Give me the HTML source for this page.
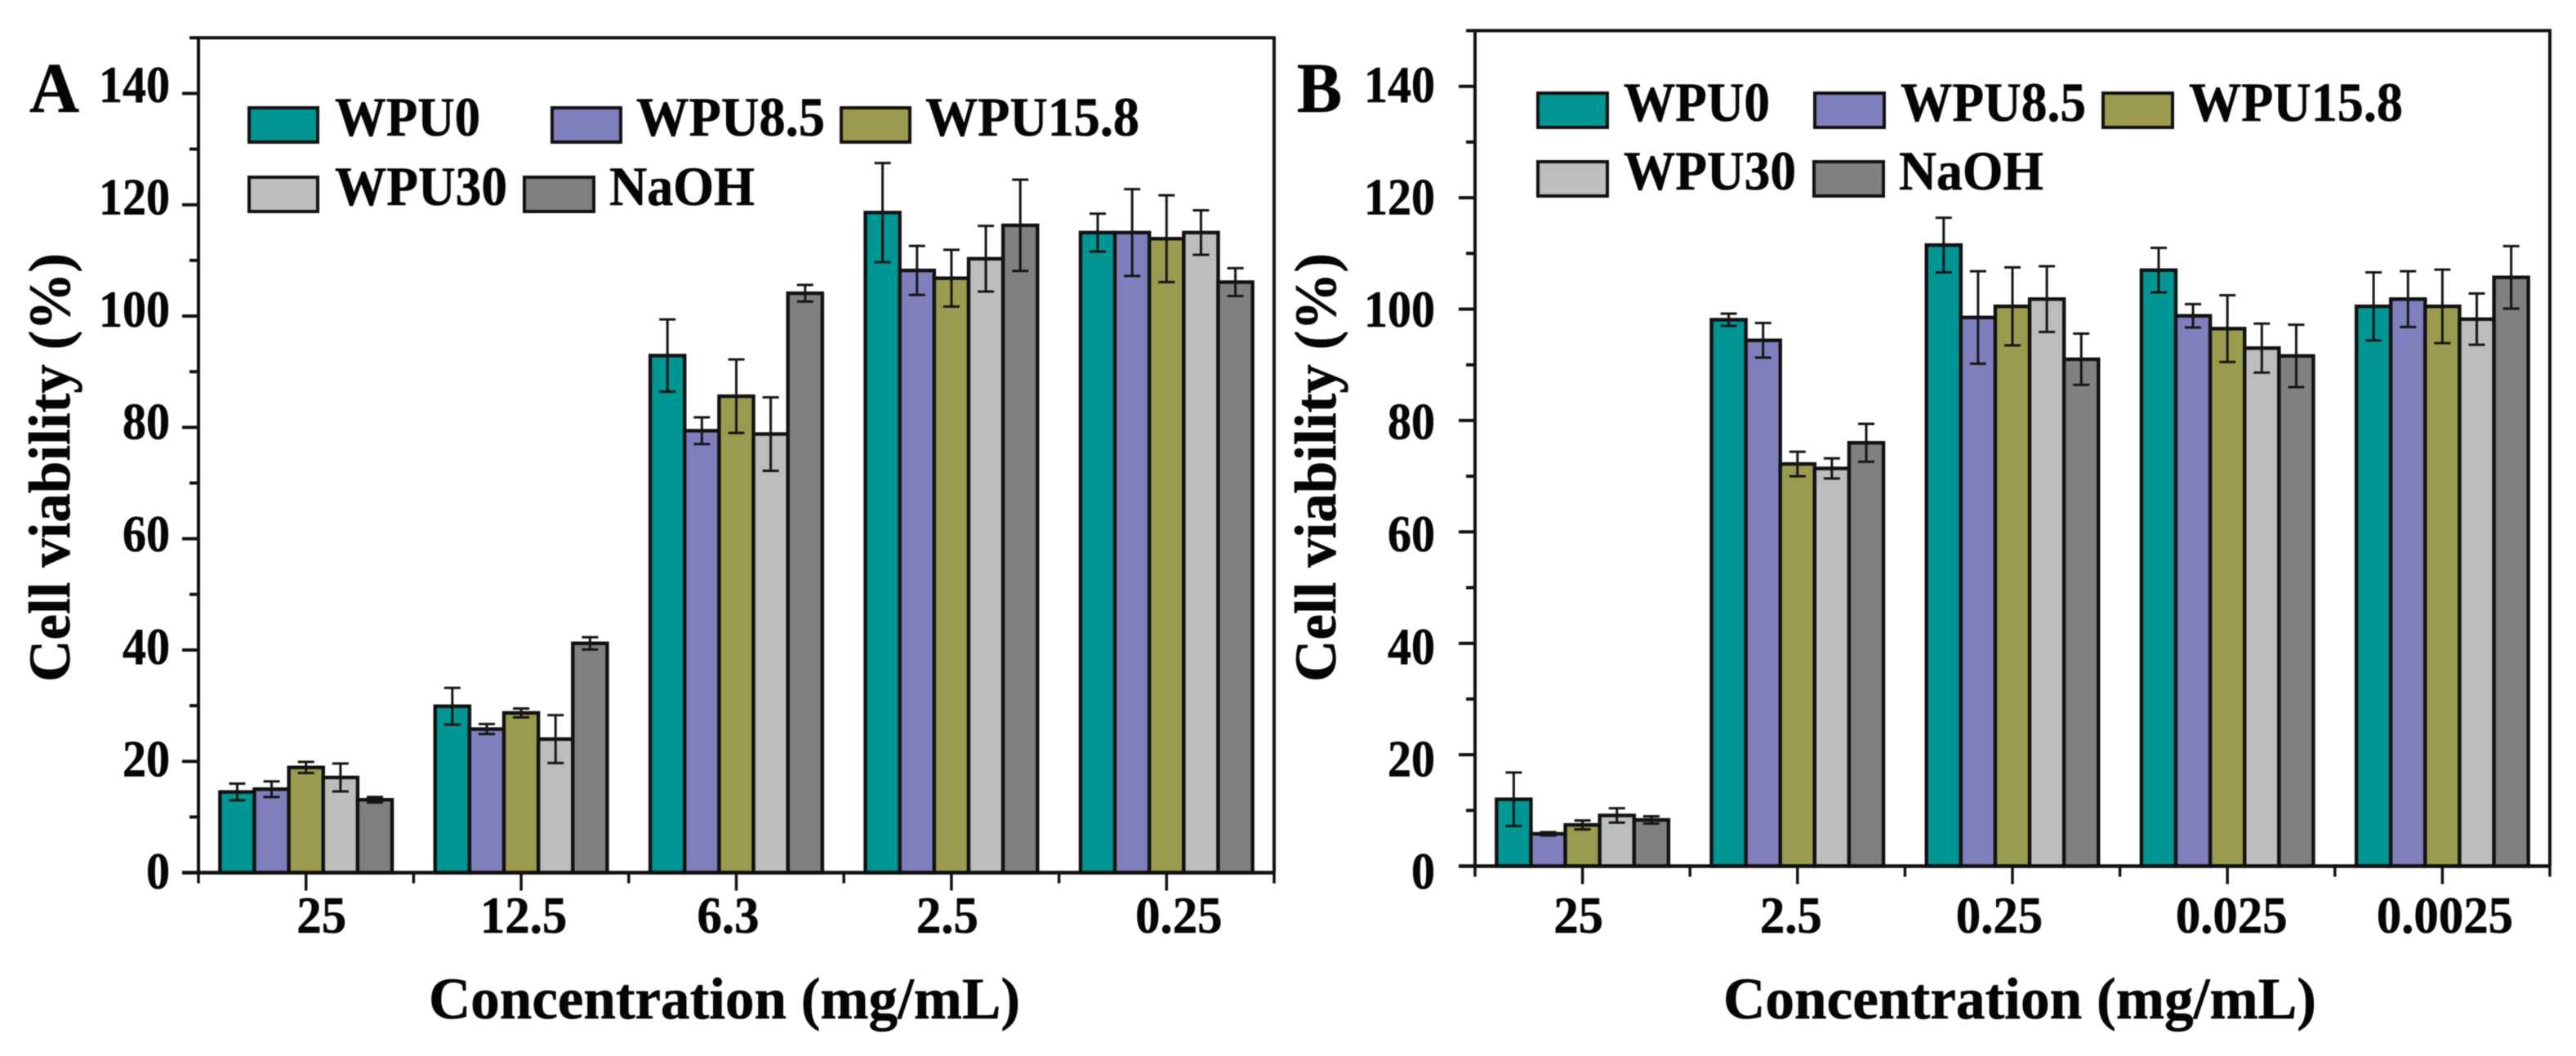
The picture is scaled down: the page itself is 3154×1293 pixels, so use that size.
<!DOCTYPE html>
<html lang="en">
<head>
<meta charset="utf-8">
<title>Cell viability charts</title>
<style>
html,body{margin:0;padding:0;background:#fff;width:3154px;height:1293px;overflow:hidden}
svg{display:block;filter:blur(.55px)}
text{font-family:"Liberation Serif",serif;font-weight:700;fill:#050505;stroke:#050505;stroke-width:.6px}
</style>
</head>
<body>
<svg id="chart" xmlns="http://www.w3.org/2000/svg" width="3154" height="1293" viewBox="0 0 3154 1293">
  <rect width="3154" height="1293" fill="#fff"/>
  <g id="panel-a">
    <text x="36" y="137" font-size="87" textLength="61" lengthAdjust="spacingAndGlyphs">A</text>
    <text transform="translate(85,835) rotate(-90)" font-size="72" textLength="525" lengthAdjust="spacingAndGlyphs">Cell viability (%)</text>
    <text x="525" y="1247" font-size="72" textLength="724" lengthAdjust="spacingAndGlyphs">Concentration (mg/mL)</text>
    <g stroke="#111" stroke-width="4">
      <rect x="305" y="132" width="84" height="42" fill="#009694"/>
      <rect x="676" y="132" width="84" height="42" fill="#807fbd"/>
      <rect x="1030" y="132" width="84" height="42" fill="#9b9b50"/>
      <rect x="305" y="217" width="84" height="42" fill="#bdbdbd"/>
      <rect x="642" y="217" width="85" height="42" fill="#808080"/>
    </g>
    <g font-size="68">
      <text x="410" y="166" textLength="178" lengthAdjust="spacingAndGlyphs">WPU0</text>
      <text x="779" y="166" textLength="231" lengthAdjust="spacingAndGlyphs">WPU8.5</text>
      <text x="1133" y="166" textLength="262" lengthAdjust="spacingAndGlyphs">WPU15.8</text>
      <text x="410" y="251" textLength="211" lengthAdjust="spacingAndGlyphs">WPU30</text>
      <text x="746" y="251" textLength="178" lengthAdjust="spacingAndGlyphs">NaOH</text>
    </g>
  </g>
  <g id="panel-b">
    <text x="1588" y="137" font-size="87" textLength="55" lengthAdjust="spacingAndGlyphs">B</text>
    <text transform="translate(1635,835) rotate(-90)" font-size="72" textLength="525" lengthAdjust="spacingAndGlyphs">Cell viability (%)</text>
    <text x="2110" y="1247" font-size="72" textLength="726" lengthAdjust="spacingAndGlyphs">Concentration (mg/mL)</text>
    <g stroke="#111" stroke-width="4">
      <rect x="1883" y="114" width="85" height="42" fill="#009694"/>
      <rect x="2222" y="114" width="85" height="42" fill="#807fbd"/>
      <rect x="2575" y="114" width="85" height="42" fill="#9b9b50"/>
      <rect x="1883" y="198" width="85" height="42" fill="#bdbdbd"/>
      <rect x="2221" y="198" width="85" height="42" fill="#808080"/>
    </g>
    <g font-size="68">
      <text x="1988" y="148" textLength="179" lengthAdjust="spacingAndGlyphs">WPU0</text>
      <text x="2327" y="148" textLength="227" lengthAdjust="spacingAndGlyphs">WPU8.5</text>
      <text x="2680" y="148" textLength="262" lengthAdjust="spacingAndGlyphs">WPU15.8</text>
      <text x="1988" y="232" textLength="211" lengthAdjust="spacingAndGlyphs">WPU30</text>
      <text x="2325" y="232" textLength="177" lengthAdjust="spacingAndGlyphs">NaOH</text>
    </g>
  </g>
</svg>
<script>
// Shared tick labels
const yTickLabels = [0, 20, 40, 60, 80, 100, 120, 140];
const yMinorTicks = [10, 30, 50, 70, 90, 110, 130, 150];

// Panel A data
const categoriesA = ['25', '12.5', '6.3', '2.5', '0.25'];
const wpu0A = [14.5, 29.9, 92.9, 118.6, 115];
const wpu85A = [15, 25.8, 79.4, 108.2, 115];
const wpu158A = [18.9, 28.7, 85.6, 106.8, 113.9];
const wpu30A = [17.1, 24, 78.8, 110.3, 115];
const naohA = [13.1, 41.2, 104.1, 116.3, 106.1];
const wpu0ErrA = [1.5, 3.3, 6.5, 8.9, 3.4];
const wpu85ErrA = [1.4, 0.9, 2.4, 4.4, 7.8];
const wpu158ErrA = [1, 0.8, 6.6, 5.1, 7.8];
const wpu30ErrA = [2.5, 4.3, 6.6, 5.9, 4];
const naohErrA = [0.5, 1.1, 1.5, 8.2, 2.5];

// Panel B data
const categoriesB = ['25', '2.5', '0.25', '0.025', '0.0025'];
const wpu0B = [12, 98.1, 111.5, 107, 100.5];
const wpu85B = [5.8, 94.4, 98.5, 98.8, 101.8];
const wpu158B = [7.4, 72.2, 100.5, 96.5, 100.5];
const wpu30B = [9.1, 71.4, 101.8, 93, 98.2];
const naohB = [8.3, 76, 91, 91.6, 105.7];
const wpu0ErrB = [4.8, 1.1, 4.9, 4, 6.1];
const wpu85ErrB = [0.3, 3.1, 8.3, 2.1, 5];
const wpu158ErrB = [0.8, 2.2, 7, 6, 6.6];
const wpu30ErrB = [1.3, 1.8, 5.9, 4.4, 4.6];
const naohErrB = [0.65, 3.4, 4.6, 5.6, 5.6];

const seriesColors = ['#009694', '#807fbd', '#9b9b50', '#bdbdbd', '#808080'];
const NS = 'http://www.w3.org/2000/svg';
const INK = '#111';

function node(parent, tag, attrs) {
  const el = document.createElementNS(NS, tag);
  for (const k in attrs) el.setAttribute(k, attrs[k]);
  parent.appendChild(el);
  return el;
}

function drawPanel(rootId, layout, categories, series, errors) {
  const root = document.getElementById(rootId);
  const yScale = v => layout.y0 - v * layout.yUnit;
  const labelY = v => layout.labelBase - v * 6.88;
  const step = (layout.x1 - layout.x0) / categories.length;
  const xCenter = i => layout.x0 + (i + 0.5) * step;
  const barW = step * 0.8 / series.length;
  const top = yScale(150);

  // plot frame (top, left, right)
  const frame = node(root, 'path', {
    d: 'M' + layout.x0 + ' ' + layout.y0 + 'V' + top + 'H' + layout.x1 + 'V' + layout.y0,
    fill: 'none', stroke: INK, 'stroke-width': 4
  });
  
  

  // bars
  series.forEach((vals, s) => {
    vals.forEach((v, i) => {
      const x = xCenter(i) - step * 0.4 + s * barW;
      const bar = node(root, 'rect', {
        x: x, y: yScale(v), width: barW, height: layout.y0 - yScale(v),
        fill: seriesColors[s], stroke: INK, 'stroke-width': 4.4
      });
      
      
    });
  });

  // error bars
  series.forEach((vals, s) => {
    vals.forEach((v, i) => {
      const cx = xCenter(i) - step * 0.4 + (s + 0.5) * barW;
      const e = errors[s][i];
      const hi = yScale(v + e), lo = yScale(v - e);
      const err = node(root, 'path', {
        d: 'M' + cx + ' ' + hi + 'V' + lo + 'M' + (cx - 10) + ' ' + hi + 'h20M' + (cx - 10) + ' ' + lo + 'h20',
        fill: 'none', stroke: '#151515', 'stroke-width': 3
      });
      
      
    });
  });

  // baseline
  const base = node(root, 'line', {
    x1: layout.x0 - 20, x2: layout.x1, y1: layout.y0, y2: layout.y0, stroke: INK, 'stroke-width': 4.5
  });
  
  

  // y ticks and labels
  yTickLabels.forEach(v => {
    const t = node(root, 'line', {
      x1: layout.x0 - 20, x2: layout.x0, y1: yScale(v), y2: yScale(v), stroke: INK, 'stroke-width': 4
    });
    
    
    const lab = node(root, 'text', {
      transform: 'translate(' + layout.yLabelRight + ',' + labelY(v) + ') scale(.906,1)',
      'text-anchor': 'end', 'font-size': 64
    });
    lab.textContent = v;
    
    
  });
  yMinorTicks.forEach(v => {
    const t = node(root, 'line', {
      x1: layout.x0 - 11, x2: layout.x0, y1: yScale(v), y2: yScale(v), stroke: INK, 'stroke-width': 4
    });
    
    
  });

  // x ticks and labels
  categories.forEach((c, i) => {
    const t = node(root, 'line', {
      x1: xCenter(i), x2: xCenter(i), y1: layout.y0, y2: layout.y0 + 22, stroke: INK, 'stroke-width': 3.5
    });
    
    
    const lab = node(root, 'text', {
      transform: 'translate(' + (xCenter(i) + layout.labelNudge[i]) + ',1142) scale(.95,1)',
      'text-anchor': 'middle', 'font-size': 64
    });
    lab.textContent = c;
    
    
  });
  for (let i = 0; i <= categories.length; i++) {
    const x = layout.x0 + i * step;
    const t = node(root, 'line', {
      x1: x, x2: x, y1: layout.y0, y2: layout.y0 + 13, stroke: INK, 'stroke-width': 3.5
    });
    
    
  }
}

drawPanel('panel-a',
  { x0: 243, x1: 1560, y0: 1068.5, yUnit: 6.815, labelBase: 1088, yLabelRight: 208, labelNudge: [19, 3, -10, -5, 15] },
  categoriesA,
  [wpu0A, wpu85A, wpu158A, wpu30A, naohA],
  [wpu0ErrA, wpu85ErrA, wpu158ErrA, wpu30ErrA, naohErrA]);

drawPanel('panel-b',
  { x0: 1806, x1: 3122, y0: 1060.5, yUnit: 6.82, labelBase: 1088, yLabelRight: 1757, labelNudge: [-5, -8, -16, 5, 3] },
  categoriesB,
  [wpu0B, wpu85B, wpu158B, wpu30B, naohB],
  [wpu0ErrB, wpu85ErrB, wpu158ErrB, wpu30ErrB, naohErrB]);
</script>
</body>
</html>
